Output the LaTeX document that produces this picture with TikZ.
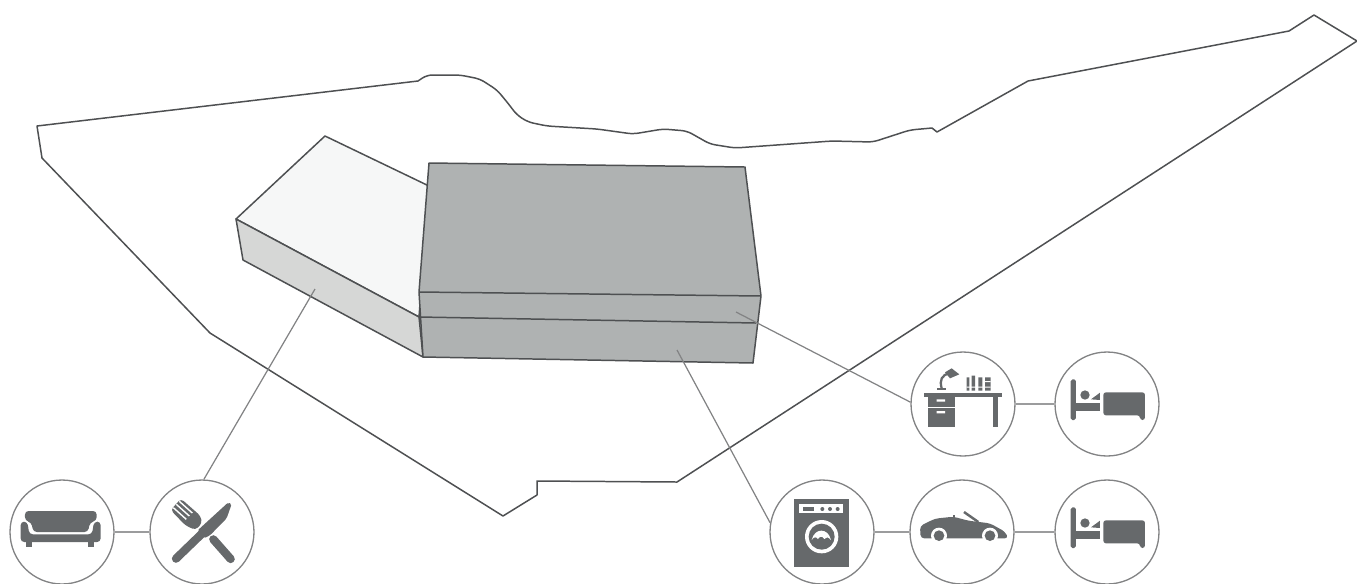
\documentclass[tikz,border=0pt]{standalone}
\usetikzlibrary{positioning}
\definecolor{iconGray}{RGB}{102,105,107}
\definecolor{lineGray}{RGB}{78,80,82}
\definecolor{ringGray}{RGB}{130,131,132}
\definecolor{massGray}{RGB}{175,178,178}
\definecolor{sideGray}{RGB}{214,215,214}
\definecolor{roofGray}{RGB}{246,247,247}
\tikzset{
  ring/.style={circle,draw=ringGray,line width=0.75pt,minimum size=2.08cm,inner sep=0pt},
  link/.style={draw=ringGray!80,line width=0.7pt},
  leader/.style={draw=ringGray,line width=0.7pt},
  edge line/.style={draw=lineGray,line width=0.85pt,line join=round},
  icon/.style={x=0.006667cm,y=-0.006667cm},
  pics/bedicon/.code={
    \fill[iconGray,rounded corners=1pt] (512,103) rectangle (528,225);
    \fill[iconGray] (528,174) rectangle (600,197);
    \fill[iconGray,rounded corners=1.5pt] (610,142) -- (735,142) -- (735,225) -- (720,225) -- (720,211) -- (610,211) -- cycle;
    \fill[iconGray] (555,150) circle (14);
    \fill[iconGray] (573,163) -- (600,143) -- (600,165) -- cycle;
  }
}
\begin{document}
\begin{tikzpicture}[x=0.02cm,y=-0.02cm]
\useasboundingbox (0,0) rectangle (1357,583);
% site outline
\draw[edge line] (37,126) -- (418,81) [rounded corners=3pt] -- (427,75) -- (460,75) -- (480,79) -- (497,90) -- (507,102) -- (517,115) -- (528,122) -- (547,126) -- (597,129) -- (633,134) -- (663,129) -- (687,131) -- (710,144) -- (735,148) -- (832,141) -- (873,142) -- (910,130) [sharp corners] -- (932,128) -- (937,132) -- (1028,81) -- (1289,31) -- (1314,15) -- (1357,41) -- (677,482) -- (537,481) -- (537,495) -- (503,516) -- (210,333) -- (42,158) -- cycle;
% low block
\filldraw[edge line,fill=roofGray] (236,219) -- (325,136) -- (429,186) -- (419,317) -- cycle;
\filldraw[edge line,fill=sideGray] (236,219) -- (243,260) -- (423,357) -- (419,317) -- cycle;
% tall block
\filldraw[edge line,fill=massGray] (429,163) -- (745,167) -- (761,296) -- (753,363) -- (423,357) -- (419,292) -- cycle;
\draw[edge line] (419,292) -- (761,296);
\draw[edge line] (419,317) -- (756,323);
% tips of the leaders
\coordinate (sideTip) at (315,289);
\coordinate (upperTip) at (736,312);
\coordinate (lowerTip) at (677,350);
% circles
\node[ring] (sofa) at (62,532) {};
\node[ring] (dine) at (202,532) {};
\node[ring] (desk) at (963,404) {};
\node[ring] (bedA) at (1107,404) {};
\node[ring] (wash) at (822,532) {};
\node[ring] (car) at (962,532) {};
\node[ring] (bedB) at (1107,532) {};
\draw[link] (sofa) -- (dine);
\draw[link] (desk) -- (bedA);
\draw[link] (wash) -- (car);
\draw[link] (car) -- (bedB);
\draw[leader] (sideTip) -- (dine.88);
\draw[leader] (upperTip) -- (desk.178);
\draw[leader] (lowerTip) -- (wash.170);
% sofa
\begin{scope}[shift={(0,460)},icon]
\fill[iconGray,rounded corners=2pt] (75,153) -- (290,153) -- (290,182) -- (270,187) -- (264,216) -- (100,216) -- (94,187) -- (75,182) -- cycle;
\fill[iconGray,rounded corners=2pt] (62,185) -- (82,185) -- (88,223) -- (276,223) -- (282,185) -- (302,185) -- (302,246) -- (62,246) -- cycle;
\fill[iconGray] (78,244) rectangle (95,260);
\fill[iconGray] (265,244) rectangle (282,260);
\end{scope}
% knife and fork
\begin{scope}[shift={(0,460)},icon]
\draw[iconGray,line width=4.7pt,line cap=round] (528,296) -- (615,212);
\fill[iconGray,rounded corners=1pt] (592,212) -- (685,127) -- (695,132) -- (680,175) -- (630,226) -- (612,235) -- cycle;
\draw[iconGray,line width=4.7pt,line cap=round] (640,238) -- (692,297);
\fill[iconGray,rounded corners=2pt] (512,150) -- (543,116) -- (602,168) -- (606,190) -- (586,210) -- (556,196) -- cycle;
\draw[white,line width=0.8pt] (529,133) -- (568,168) (520,143) -- (559,178) (538,124) -- (577,159);
\end{scope}
% desk with lamp and books
\begin{scope}[shift={(900,345)},icon]
\fill[iconGray] (72,143) -- (305,143) -- (305,155) -- (72,155) -- cycle;
\fill[iconGray] (85,155) rectangle (165,245);
\fill[iconGray] (278,155) rectangle (295,245);
\fill[white] (85,186) rectangle (165,190);
\fill[white] (110,163) rectangle (135,170) (110,198) rectangle (135,205);
\fill[iconGray] (110,128) rectangle (138,135);
\draw[iconGray,line width=1.3pt] (125,130) .. controls (118,105) and (125,90) .. (148,85);
\fill[iconGray] (135,82) -- (155,70) -- (178,88) -- (150,100) -- cycle;
\fill[iconGray] (200,97) rectangle (208,137) (215,92) rectangle (225,137) (235,97) rectangle (247,137) (255,97) rectangle (272,137);
\fill[white] (200,125) rectangle (272,128) (255,108) rectangle (272,111);
\end{scope}
\begin{scope}[shift={(900,345)},icon]
\pic {bedicon};
\end{scope}
\begin{scope}[shift={(900,473)},icon]
\pic {bedicon};
\end{scope}
% washing machine
\begin{scope}[shift={(760,470)},icon]
\fill[iconGray] (103,88) rectangle (267,290);
\fill[white] (118,103) rectangle (250,130);
\fill[iconGray] (130,110) rectangle (162,124);
\fill[iconGray] (187,117) circle (6) (210,117) circle (6) (233,117) circle (6);
\fill[white] (185,200) circle (50);
\fill[iconGray] (185,200) circle (39);
\fill[white] (155,210) .. controls (160,190) and (172,182) .. (184,182) .. controls (196,182) and (208,190) .. (213,210) .. controls (205,200) and (197,200) .. (193,207) .. controls (188,198) and (179,198) .. (174,207) .. controls (169,200) and (161,200) .. (155,210) -- cycle;
\end{scope}
% car
\begin{scope}[shift={(760,470)},icon]
\fill[iconGray,rounded corners=2pt] (482,205) -- (480,168) -- (525,146) -- (580,140) -- (625,152) -- (690,160) -- (735,185) -- (745,205) -- cycle;
\fill[iconGray] (580,135) rectangle (586,155);
\draw[iconGray,line width=1.4pt] (612,126) -- (655,156);
\fill[white] (537,197) circle (24) (690,197) circle (24);
\fill[iconGray] (537,197) circle (16) (690,197) circle (16);
\end{scope}
\end{tikzpicture}
\end{document}
